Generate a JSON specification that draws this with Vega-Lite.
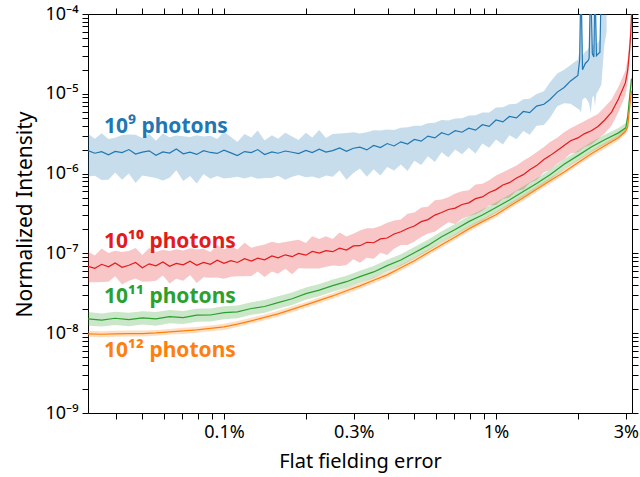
{
  "$schema": "https://vega.github.io/schema/vega-lite/v6.json",
  "width": 544,
  "height": 399,
  "autosize": "none",
  "padding": {"left": 88, "top": 14, "right": 8, "bottom": 64},
  "background": "white",
  "config": {"view": {"stroke": null}, "font": "Noto Sans"},
  "data": {"values": [
    {"s":"9","x":0.0316,"y":1.95e-6,"lo":0.92e-6,"hi":3.16e-6},
    {"s":"9","x":0.0335,"y":1.80e-6,"lo":0.94e-6,"hi":2.74e-6},
    {"s":"9","x":0.0355,"y":1.88e-6,"lo":0.83e-6,"hi":3.20e-6},
    {"s":"9","x":0.0376,"y":1.72e-6,"lo":0.84e-6,"hi":2.72e-6},
    {"s":"9","x":0.0398,"y":1.90e-6,"lo":1.03e-6,"hi":2.81e-6},
    {"s":"9","x":0.0422,"y":1.83e-6,"lo":0.84e-6,"hi":3.04e-6},
    {"s":"9","x":0.0447,"y":2.00e-6,"lo":1.00e-6,"hi":3.10e-6},
    {"s":"9","x":0.0473,"y":1.76e-6,"lo":0.76e-6,"hi":3.06e-6},
    {"s":"9","x":0.0501,"y":1.86e-6,"lo":0.95e-6,"hi":2.79e-6},
    {"s":"9","x":0.0531,"y":1.93e-6,"lo":0.91e-6,"hi":3.13e-6},
    {"s":"9","x":0.0562,"y":1.70e-6,"lo":0.88e-6,"hi":2.58e-6},
    {"s":"9","x":0.0596,"y":1.87e-6,"lo":0.82e-6,"hi":3.18e-6},
    {"s":"9","x":0.0631,"y":1.81e-6,"lo":0.89e-6,"hi":2.86e-6},
    {"s":"9","x":0.0668,"y":2.03e-6,"lo":1.10e-6,"hi":3.00e-6},
    {"s":"9","x":0.0708,"y":1.77e-6,"lo":0.81e-6,"hi":2.94e-6},
    {"s":"9","x":0.075,"y":1.86e-6,"lo":0.93e-6,"hi":2.88e-6},
    {"s":"9","x":0.0794,"y":1.74e-6,"lo":0.75e-6,"hi":3.03e-6},
    {"s":"9","x":0.0841,"y":1.94e-6,"lo":0.99e-6,"hi":2.91e-6},
    {"s":"9","x":0.0891,"y":1.84e-6,"lo":0.86e-6,"hi":2.98e-6},
    {"s":"9","x":0.0944,"y":1.79e-6,"lo":0.93e-6,"hi":2.72e-6},
    {"s":"9","x":0.1,"y":1.97e-6,"lo":0.87e-6,"hi":3.35e-6},
    {"s":"9","x":0.106,"y":1.82e-6,"lo":0.89e-6,"hi":2.88e-6},
    {"s":"9","x":0.112,"y":1.68e-6,"lo":0.91e-6,"hi":2.49e-6},
    {"s":"9","x":0.119,"y":1.89e-6,"lo":0.87e-6,"hi":3.14e-6},
    {"s":"9","x":0.126,"y":1.83e-6,"lo":0.92e-6,"hi":2.84e-6},
    {"s":"9","x":0.133,"y":2.00e-6,"lo":0.86e-6,"hi":3.48e-6},
    {"s":"9","x":0.141,"y":1.73e-6,"lo":0.88e-6,"hi":2.60e-6},
    {"s":"9","x":0.15,"y":1.87e-6,"lo":0.88e-6,"hi":3.03e-6},
    {"s":"9","x":0.158,"y":1.80e-6,"lo":0.94e-6,"hi":2.74e-6},
    {"s":"9","x":0.168,"y":1.92e-6,"lo":0.84e-6,"hi":3.26e-6},
    {"s":"9","x":0.178,"y":1.85e-6,"lo":0.91e-6,"hi":2.92e-6},
    {"s":"9","x":0.188,"y":1.78e-6,"lo":0.96e-6,"hi":2.63e-6},
    {"s":"9","x":0.2,"y":1.95e-6,"lo":0.90e-6,"hi":3.24e-6},
    {"s":"9","x":0.211,"y":1.83e-6,"lo":0.92e-6,"hi":2.84e-6},
    {"s":"9","x":0.224,"y":2.02e-6,"lo":0.87e-6,"hi":3.51e-6},
    {"s":"9","x":0.237,"y":1.86e-6,"lo":0.95e-6,"hi":2.79e-6},
    {"s":"9","x":0.251,"y":1.94e-6,"lo":0.91e-6,"hi":3.14e-6},
    {"s":"9","x":0.266,"y":2.10e-6,"lo":1.09e-6,"hi":3.19e-6},
    {"s":"9","x":0.282,"y":1.90e-6,"lo":0.84e-6,"hi":3.23e-6},
    {"s":"9","x":0.299,"y":2.08e-6,"lo":1.02e-6,"hi":3.29e-6},
    {"s":"9","x":0.316,"y":2.15e-6,"lo":1.16e-6,"hi":3.18e-6},
    {"s":"9","x":0.335,"y":1.98e-6,"lo":0.91e-6,"hi":3.29e-6},
    {"s":"9","x":0.355,"y":2.25e-6,"lo":1.13e-6,"hi":3.49e-6},
    {"s":"9","x":0.376,"y":2.12e-6,"lo":0.95e-6,"hi":3.48e-6},
    {"s":"9","x":0.398,"y":2.38e-6,"lo":1.21e-6,"hi":3.57e-6},
    {"s":"9","x":0.422,"y":2.22e-6,"lo":1.09e-6,"hi":3.51e-6},
    {"s":"9","x":0.447,"y":2.50e-6,"lo":1.30e-6,"hi":3.75e-6},
    {"s":"9","x":0.473,"y":2.35e-6,"lo":1.08e-6,"hi":3.81e-6},
    {"s":"9","x":0.501,"y":2.68e-6,"lo":1.45e-6,"hi":3.97e-6},
    {"s":"9","x":0.531,"y":2.55e-6,"lo":1.28e-6,"hi":3.98e-6},
    {"s":"9","x":0.562,"y":2.95e-6,"lo":1.65e-6,"hi":4.28e-6},
    {"s":"9","x":0.596,"y":2.80e-6,"lo":1.40e-6,"hi":4.34e-6},
    {"s":"9","x":0.631,"y":3.25e-6,"lo":1.85e-6,"hi":4.68e-6},
    {"s":"9","x":0.668,"y":3.05e-6,"lo":1.59e-6,"hi":4.64e-6},
    {"s":"9","x":0.708,"y":3.45e-6,"lo":2.00e-6,"hi":4.90e-6},
    {"s":"9","x":0.75,"y":3.30e-6,"lo":1.75e-6,"hi":4.95e-6},
    {"s":"9","x":0.794,"y":3.70e-6,"lo":2.11e-6,"hi":5.33e-6},
    {"s":"9","x":0.841,"y":3.50e-6,"lo":1.79e-6,"hi":5.39e-6},
    {"s":"9","x":0.891,"y":4.10e-6,"lo":2.38e-6,"hi":5.82e-6},
    {"s":"9","x":0.944,"y":3.90e-6,"lo":2.11e-6,"hi":5.85e-6},
    {"s":"9","x":1.0,"y":4.70e-6,"lo":2.68e-6,"hi":6.72e-6},
    {"s":"9","x":1.06,"y":4.45e-6,"lo":2.31e-6,"hi":6.76e-6},
    {"s":"9","x":1.12,"y":5.20e-6,"lo":3.02e-6,"hi":7.38e-6},
    {"s":"9","x":1.19,"y":5.00e-6,"lo":2.70e-6,"hi":7.50e-6},
    {"s":"9","x":1.26,"y":6.00e-6,"lo":3.42e-6,"hi":8.52e-6},
    {"s":"9","x":1.33,"y":5.80e-6,"lo":3.07e-6,"hi":8.70e-6},
    {"s":"9","x":1.41,"y":7.00e-6,"lo":3.99e-6,"hi":9.94e-6},
    {"s":"9","x":1.5,"y":7.40e-6,"lo":4.07e-6,"hi":10.8e-6},
    {"s":"9","x":1.58,"y":8.50e-6,"lo":5.0e-6,"hi":14.0e-6},
    {"s":"9","x":1.68,"y":10.5e-6,"lo":7.0e-6,"hi":18.0e-6},
    {"s":"9","x":1.78,"y":12.0e-6,"lo":7.6e-6,"hi":20.0e-6},
    {"s":"9","x":1.88,"y":14.5e-6,"lo":7.5e-6,"hi":23.0e-6},
    {"s":"9","x":2.0,"y":17.0e-6,"lo":6.5e-6,"hi":27.0e-6},
    {"s":"9","x":2.03,"y":2.65e-5,"lo":0.63e-5,"hi":3.6e-5},
    {"s":"9","x":2.053,"y":30e-5,"lo":0.58e-5,"hi":40e-5},
    {"s":"9","x":2.08,"y":2.0e-5,"lo":0.85e-5,"hi":3.0e-5},
    {"s":"9","x":2.13,"y":2.4e-5,"lo":0.9e-5,"hi":3.4e-5},
    {"s":"9","x":2.18,"y":2.6e-5,"lo":0.8e-5,"hi":3.6e-5},
    {"s":"9","x":2.2,"y":2.8e-5,"lo":0.75e-5,"hi":3.9e-5},
    {"s":"9","x":2.23,"y":30e-5,"lo":0.57e-5,"hi":40e-5},
    {"s":"9","x":2.26,"y":3.2e-5,"lo":0.9e-5,"hi":4.2e-5},
    {"s":"9","x":2.29,"y":2.9e-5,"lo":0.95e-5,"hi":4.0e-5},
    {"s":"9","x":2.31,"y":30e-5,"lo":0.7e-5,"hi":40e-5},
    {"s":"9","x":2.34,"y":3.0e-5,"lo":1.0e-5,"hi":4.2e-5},
    {"s":"9","x":2.38,"y":3.2e-5,"lo":1.1e-5,"hi":4.5e-5},
    {"s":"9","x":2.41,"y":3.3e-5,"lo":1.2e-5,"hi":4.8e-5},
    {"s":"9","x":2.44,"y":30e-5,"lo":1.3e-5,"hi":40e-5},
    {"s":"9","x":2.5,"y":30e-5,"lo":4.0e-5,"hi":40e-5},
    {"s":"9","x":2.55,"y":30e-5,"lo":6.0e-5,"hi":40e-5},

    {"s":"10","x":0.0316,"y":6.9e-8,"lo":4.35e-8,"hi":10.5e-8},
    {"s":"10","x":0.0335,"y":6.5e-8,"lo":4.36e-8,"hi":9.43e-8},
    {"s":"10","x":0.0355,"y":7.3e-8,"lo":4.38e-8,"hi":11.5e-8},
    {"s":"10","x":0.0376,"y":6.8e-8,"lo":4.42e-8,"hi":10.1e-8},
    {"s":"10","x":0.0398,"y":7.6e-8,"lo":5.17e-8,"hi":10.8e-8},
    {"s":"10","x":0.0422,"y":6.7e-8,"lo":4.09e-8,"hi":10.4e-8},
    {"s":"10","x":0.0447,"y":7.1e-8,"lo":4.54e-8,"hi":10.7e-8},
    {"s":"10","x":0.0473,"y":7.7e-8,"lo":4.85e-8,"hi":11.7e-8},
    {"s":"10","x":0.0501,"y":6.6e-8,"lo":4.42e-8,"hi":9.57e-8},
    {"s":"10","x":0.0531,"y":7.4e-8,"lo":4.44e-8,"hi":11.7e-8},
    {"s":"10","x":0.0562,"y":7.0e-8,"lo":4.55e-8,"hi":10.4e-8},
    {"s":"10","x":0.0596,"y":7.8e-8,"lo":5.30e-8,"hi":11.1e-8},
    {"s":"10","x":0.0631,"y":6.9e-8,"lo":4.21e-8,"hi":10.7e-8},
    {"s":"10","x":0.0668,"y":7.5e-8,"lo":4.80e-8,"hi":11.3e-8},
    {"s":"10","x":0.0708,"y":7.2e-8,"lo":4.54e-8,"hi":10.9e-8},
    {"s":"10","x":0.075,"y":8.0e-8,"lo":5.36e-8,"hi":11.6e-8},
    {"s":"10","x":0.0794,"y":7.1e-8,"lo":4.26e-8,"hi":11.2e-8},
    {"s":"10","x":0.0841,"y":7.7e-8,"lo":5.01e-8,"hi":11.4e-8},
    {"s":"10","x":0.0891,"y":7.3e-8,"lo":4.96e-8,"hi":10.4e-8},
    {"s":"10","x":0.0944,"y":8.2e-8,"lo":5.00e-8,"hi":12.7e-8},
    {"s":"10","x":0.1,"y":7.5e-8,"lo":4.80e-8,"hi":11.3e-8},
    {"s":"10","x":0.106,"y":8.1e-8,"lo":5.10e-8,"hi":12.3e-8},
    {"s":"10","x":0.112,"y":7.7e-8,"lo":5.16e-8,"hi":11.2e-8},
    {"s":"10","x":0.119,"y":8.6e-8,"lo":5.16e-8,"hi":13.6e-8},
    {"s":"10","x":0.126,"y":8.0e-8,"lo":5.20e-8,"hi":11.8e-8},
    {"s":"10","x":0.133,"y":8.7e-8,"lo":5.92e-8,"hi":12.4e-8},
    {"s":"10","x":0.141,"y":8.3e-8,"lo":5.06e-8,"hi":12.9e-8},
    {"s":"10","x":0.15,"y":9.3e-8,"lo":5.95e-8,"hi":14.0e-8},
    {"s":"10","x":0.158,"y":8.8e-8,"lo":5.54e-8,"hi":13.4e-8},
    {"s":"10","x":0.168,"y":9.6e-8,"lo":6.43e-8,"hi":13.9e-8},
    {"s":"10","x":0.178,"y":9.1e-8,"lo":5.46e-8,"hi":14.4e-8},
    {"s":"10","x":0.188,"y":10.0e-8,"lo":6.50e-8,"hi":14.8e-8},
    {"s":"10","x":0.2,"y":9.5e-8,"lo":6.46e-8,"hi":13.5e-8},
    {"s":"10","x":0.211,"y":10.6e-8,"lo":6.47e-8,"hi":16.4e-8},
    {"s":"10","x":0.224,"y":10.1e-8,"lo":6.46e-8,"hi":15.2e-8},
    {"s":"10","x":0.237,"y":10.8e-8,"lo":6.80e-8,"hi":16.4e-8},
    {"s":"10","x":0.251,"y":10.5e-8,"lo":7.04e-8,"hi":15.2e-8},
    {"s":"10","x":0.266,"y":11.6e-8,"lo":6.96e-8,"hi":18.3e-8},
    {"s":"10","x":0.282,"y":11.0e-8,"lo":7.15e-8,"hi":16.3e-8},
    {"s":"10","x":0.299,"y":12.4e-8,"lo":8.43e-8,"hi":17.6e-8},
    {"s":"10","x":0.316,"y":12.5e-8,"lo":7.63e-8,"hi":19.4e-8},
    {"s":"10","x":0.335,"y":13.8e-8,"lo":8.83e-8,"hi":20.7e-8},
    {"s":"10","x":0.355,"y":13.6e-8,"lo":8.57e-8,"hi":20.7e-8},
    {"s":"10","x":0.376,"y":15.2e-8,"lo":10.2e-8,"hi":22.0e-8},
    {"s":"10","x":0.398,"y":15.6e-8,"lo":9.52e-8,"hi":24.3e-8},
    {"s":"10","x":0.422,"y":17.5e-8,"lo":11.4e-8,"hi":25.9e-8},
    {"s":"10","x":0.447,"y":18.7e-8,"lo":12.7e-8,"hi":26.6e-8},
    {"s":"10","x":0.473,"y":20.5e-8,"lo":12.7e-8,"hi":31.4e-8},
    {"s":"10","x":0.501,"y":22.0e-8,"lo":14.1e-8,"hi":32.6e-8},
    {"s":"10","x":0.531,"y":25.0e-8,"lo":16.0e-8,"hi":37.5e-8},
    {"s":"10","x":0.562,"y":26.5e-8,"lo":17.8e-8,"hi":38.4e-8},
    {"s":"10","x":0.596,"y":30.2e-8,"lo":18.7e-8,"hi":46.2e-8},
    {"s":"10","x":0.631,"y":32.5e-8,"lo":21.5e-8,"hi":47.5e-8},
    {"s":"10","x":0.668,"y":35.5e-8,"lo":24.5e-8,"hi":50.4e-8},
    {"s":"10","x":0.708,"y":37.0e-8,"lo":23.3e-8,"hi":56.2e-8},
    {"s":"10","x":0.75,"y":41.0e-8,"lo":27.1e-8,"hi":60.3e-8},
    {"s":"10","x":0.794,"y":43.0e-8,"lo":29.2e-8,"hi":61.9e-8},
    {"s":"10","x":0.841,"y":48.5e-8,"lo":31.0e-8,"hi":72.8e-8},
    {"s":"10","x":0.891,"y":51.0e-8,"lo":34.2e-8,"hi":74.5e-8},
    {"s":"10","x":0.944,"y":58.0e-8,"lo":40.0e-8,"hi":82.4e-8},
    {"s":"10","x":1.0,"y":63.0e-8,"lo":40.3e-8,"hi":94.5e-8},
    {"s":"10","x":1.06,"y":72.0e-8,"lo":48.2e-8,"hi":104e-8},
    {"s":"10","x":1.12,"y":77.0e-8,"lo":50.1e-8,"hi":114e-8},
    {"s":"10","x":1.19,"y":88.0e-8,"lo":60.7e-8,"hi":126e-8},
    {"s":"10","x":1.26,"y":97.0e-8,"lo":63.1e-8,"hi":145e-8},
    {"s":"10","x":1.33,"y":112e-8,"lo":76.2e-8,"hi":161e-8},
    {"s":"10","x":1.41,"y":126e-8,"lo":83.2e-8,"hi":185e-8},
    {"s":"10","x":1.5,"y":150e-8,"lo":104e-8,"hi":215e-8},
    {"s":"10","x":1.58,"y":168e-8,"lo":111e-8,"hi":249e-8},
    {"s":"10","x":1.68,"y":195e-8,"lo":133e-8,"hi":281e-8},
    {"s":"10","x":1.78,"y":225e-8,"lo":151e-8,"hi":329e-8},
    {"s":"10","x":1.88,"y":258e-8,"lo":178e-8,"hi":369e-8},
    {"s":"10","x":2.0,"y":280e-8,"lo":185e-8,"hi":412e-8},
    {"s":"10","x":2.11,"y":315e-8,"lo":214e-8,"hi":454e-8},
    {"s":"10","x":2.24,"y":345e-8,"lo":231e-8,"hi":504e-8},
    {"s":"10","x":2.37,"y":390e-8,"lo":269e-8,"hi":558e-8},
    {"s":"10","x":2.51,"y":470e-8,"lo":320e-8,"hi":682e-8},
    {"s":"10","x":2.66,"y":590e-8,"lo":401e-8,"hi":850e-8},
    {"s":"10","x":2.82,"y":860e-8,"lo":593e-8,"hi":1230e-8},
    {"s":"10","x":2.99,"y":1370e-8,"lo":959e-8,"hi":1945e-8},
    {"s":"10","x":3.05,"y":1990e-8,"lo":1390e-8,"hi":2790e-8},
    {"s":"10","x":3.1,"y":3650e-8,"lo":2560e-8,"hi":5110e-8},
    {"s":"10","x":3.13,"y":5800e-8,"lo":4060e-8,"hi":8120e-8},
    {"s":"10","x":3.16,"y":13000e-8,"lo":9100e-8,"hi":18200e-8},

    {"s":"11","x":0.0316,"y":1.51e-8,"lo":1.24e-8,"hi":1.84e-8},
    {"s":"11","x":0.0355,"y":1.46e-8,"lo":1.21e-8,"hi":1.77e-8},
    {"s":"11","x":0.0398,"y":1.54e-8,"lo":1.27e-8,"hi":1.86e-8},
    {"s":"11","x":0.0447,"y":1.48e-8,"lo":1.22e-8,"hi":1.80e-8},
    {"s":"11","x":0.0501,"y":1.56e-8,"lo":1.29e-8,"hi":1.89e-8},
    {"s":"11","x":0.0562,"y":1.51e-8,"lo":1.24e-8,"hi":1.84e-8},
    {"s":"11","x":0.0631,"y":1.61e-8,"lo":1.33e-8,"hi":1.95e-8},
    {"s":"11","x":0.0708,"y":1.57e-8,"lo":1.30e-8,"hi":1.90e-8},
    {"s":"11","x":0.0794,"y":1.68e-8,"lo":1.39e-8,"hi":2.03e-8},
    {"s":"11","x":0.0891,"y":1.69e-8,"lo":1.40e-8,"hi":2.04e-8},
    {"s":"11","x":0.1,"y":1.81e-8,"lo":1.50e-8,"hi":2.18e-8},
    {"s":"11","x":0.112,"y":1.85e-8,"lo":1.54e-8,"hi":2.23e-8},
    {"s":"11","x":0.126,"y":2.04e-8,"lo":1.70e-8,"hi":2.45e-8},
    {"s":"11","x":0.141,"y":2.16e-8,"lo":1.80e-8,"hi":2.60e-8},
    {"s":"11","x":0.158,"y":2.42e-8,"lo":2.02e-8,"hi":2.90e-8},
    {"s":"11","x":0.178,"y":2.70e-8,"lo":2.26e-8,"hi":3.23e-8},
    {"s":"11","x":0.2,"y":3.13e-8,"lo":2.62e-8,"hi":3.74e-8},
    {"s":"11","x":0.224,"y":3.46e-8,"lo":2.90e-8,"hi":4.13e-8},
    {"s":"11","x":0.251,"y":3.95e-8,"lo":3.31e-8,"hi":4.70e-8},
    {"s":"11","x":0.282,"y":4.42e-8,"lo":3.71e-8,"hi":5.26e-8},
    {"s":"11","x":0.316,"y":5.12e-8,"lo":4.30e-8,"hi":6.08e-8},
    {"s":"11","x":0.355,"y":5.86e-8,"lo":4.93e-8,"hi":6.95e-8},
    {"s":"11","x":0.398,"y":7.02e-8,"lo":5.92e-8,"hi":8.30e-8},
    {"s":"11","x":0.447,"y":8.25e-8,"lo":6.97e-8,"hi":9.74e-8},
    {"s":"11","x":0.501,"y":10.2e-8,"lo":8.64e-8,"hi":12.0e-8},
    {"s":"11","x":0.562,"y":12.6e-8,"lo":10.7e-8,"hi":14.8e-8},
    {"s":"11","x":0.631,"y":16.2e-8,"lo":13.8e-8,"hi":19.0e-8},
    {"s":"11","x":0.708,"y":19.9e-8,"lo":16.9e-8,"hi":23.3e-8},
    {"s":"11","x":0.794,"y":25.0e-8,"lo":21.3e-8,"hi":29.2e-8},
    {"s":"11","x":0.891,"y":30.3e-8,"lo":25.9e-8,"hi":35.4e-8},
    {"s":"11","x":1.0,"y":37.5e-8,"lo":32.1e-8,"hi":43.7e-8},
    {"s":"11","x":1.12,"y":46.7e-8,"lo":40.0e-8,"hi":54.4e-8},
    {"s":"11","x":1.26,"y":59.5e-8,"lo":51.0e-8,"hi":69.2e-8},
    {"s":"11","x":1.41,"y":75.0e-8,"lo":64.4e-8,"hi":87.0e-8},
    {"s":"11","x":1.58,"y":97.0e-8,"lo":83.4e-8,"hi":112e-8},
    {"s":"11","x":1.78,"y":131e-8,"lo":113e-8,"hi":151e-8},
    {"s":"11","x":2.0,"y":168e-8,"lo":145e-8,"hi":194e-8},
    {"s":"11","x":2.24,"y":216e-8,"lo":187e-8,"hi":249e-8},
    {"s":"11","x":2.51,"y":266e-8,"lo":230e-8,"hi":306e-8},
    {"s":"11","x":2.82,"y":324e-8,"lo":281e-8,"hi":373e-8},
    {"s":"11","x":3.0,"y":375e-8,"lo":326e-8,"hi":432e-8},
    {"s":"11","x":3.05,"y":518e-8,"lo":445e-8,"hi":600e-8},
    {"s":"11","x":3.1,"y":920e-8,"lo":780e-8,"hi":1080e-8},
    {"s":"11","x":3.15,"y":1550e-8,"lo":1300e-8,"hi":1850e-8},

    {"s":"12","x":0.0316,"y":0.98e-8,"lo":0.90e-8,"hi":1.07e-8},
    {"s":"12","x":0.0355,"y":0.97e-8,"lo":0.89e-8,"hi":1.06e-8},
    {"s":"12","x":0.0398,"y":0.98e-8,"lo":0.90e-8,"hi":1.07e-8},
    {"s":"12","x":0.0447,"y":0.99e-8,"lo":0.91e-8,"hi":1.08e-8},
    {"s":"12","x":0.0501,"y":0.99e-8,"lo":0.91e-8,"hi":1.08e-8},
    {"s":"12","x":0.0562,"y":1.01e-8,"lo":0.93e-8,"hi":1.10e-8},
    {"s":"12","x":0.0631,"y":1.04e-8,"lo":0.96e-8,"hi":1.13e-8},
    {"s":"12","x":0.0708,"y":1.07e-8,"lo":0.98e-8,"hi":1.17e-8},
    {"s":"12","x":0.0794,"y":1.10e-8,"lo":1.01e-8,"hi":1.20e-8},
    {"s":"12","x":0.0891,"y":1.15e-8,"lo":1.06e-8,"hi":1.25e-8},
    {"s":"12","x":0.1,"y":1.20e-8,"lo":1.10e-8,"hi":1.31e-8},
    {"s":"12","x":0.112,"y":1.30e-8,"lo":1.20e-8,"hi":1.42e-8},
    {"s":"12","x":0.126,"y":1.43e-8,"lo":1.32e-8,"hi":1.56e-8},
    {"s":"12","x":0.141,"y":1.58e-8,"lo":1.45e-8,"hi":1.72e-8},
    {"s":"12","x":0.158,"y":1.75e-8,"lo":1.61e-8,"hi":1.91e-8},
    {"s":"12","x":0.178,"y":1.99e-8,"lo":1.83e-8,"hi":2.17e-8},
    {"s":"12","x":0.2,"y":2.26e-8,"lo":2.08e-8,"hi":2.46e-8},
    {"s":"12","x":0.224,"y":2.58e-8,"lo":2.37e-8,"hi":2.81e-8},
    {"s":"12","x":0.251,"y":2.93e-8,"lo":2.70e-8,"hi":3.19e-8},
    {"s":"12","x":0.282,"y":3.40e-8,"lo":3.13e-8,"hi":3.71e-8},
    {"s":"12","x":0.316,"y":3.92e-8,"lo":3.61e-8,"hi":4.27e-8},
    {"s":"12","x":0.355,"y":4.60e-8,"lo":4.23e-8,"hi":5.01e-8},
    {"s":"12","x":0.398,"y":5.38e-8,"lo":4.95e-8,"hi":5.86e-8},
    {"s":"12","x":0.447,"y":6.60e-8,"lo":6.07e-8,"hi":7.19e-8},
    {"s":"12","x":0.501,"y":8.09e-8,"lo":7.44e-8,"hi":8.82e-8},
    {"s":"12","x":0.562,"y":10.2e-8,"lo":9.38e-8,"hi":11.1e-8},
    {"s":"12","x":0.631,"y":12.8e-8,"lo":11.8e-8,"hi":13.9e-8},
    {"s":"12","x":0.708,"y":16.1e-8,"lo":14.8e-8,"hi":17.5e-8},
    {"s":"12","x":0.794,"y":20.3e-8,"lo":18.7e-8,"hi":22.1e-8},
    {"s":"12","x":0.891,"y":25.0e-8,"lo":23.0e-8,"hi":27.2e-8},
    {"s":"12","x":1.0,"y":30.5e-8,"lo":28.1e-8,"hi":33.2e-8},
    {"s":"12","x":1.12,"y":39.0e-8,"lo":35.9e-8,"hi":42.5e-8},
    {"s":"12","x":1.26,"y":49.8e-8,"lo":45.8e-8,"hi":54.3e-8},
    {"s":"12","x":1.41,"y":63.5e-8,"lo":58.4e-8,"hi":69.2e-8},
    {"s":"12","x":1.58,"y":81.2e-8,"lo":74.7e-8,"hi":88.5e-8},
    {"s":"12","x":1.78,"y":105e-8,"lo":96.6e-8,"hi":114e-8},
    {"s":"12","x":2.0,"y":137e-8,"lo":126e-8,"hi":149e-8},
    {"s":"12","x":2.24,"y":177e-8,"lo":163e-8,"hi":193e-8},
    {"s":"12","x":2.51,"y":223e-8,"lo":205e-8,"hi":243e-8},
    {"s":"12","x":2.82,"y":281e-8,"lo":259e-8,"hi":306e-8},
    {"s":"12","x":3.0,"y":344e-8,"lo":316e-8,"hi":375e-8},
    {"s":"12","x":3.05,"y":386e-8,"lo":340e-8,"hi":440e-8},
    {"s":"12","x":3.1,"y":687e-8,"lo":560e-8,"hi":850e-8},
    {"s":"12","x":3.15,"y":1090e-8,"lo":800e-8,"hi":1500e-8}
  ]},
  "layer": [
    {
      "mark": {"type": "area", "opacity": 0.25, "clip": true},
      "encoding": {
        "x": {"field": "x", "type": "quantitative",
          "scale": {"type": "log", "domain": [0.0316228, 3.16228], "nice": false},
          "axis": {
            "orient": "bottom",
            "values": [0.04,0.05,0.06,0.07,0.08,0.09,0.1,0.2,0.3,0.4,0.5,0.6,0.7,0.8,0.9,1,2,3],
            "labelExpr": "indexof([0.1,0.3,1,3], datum.value) >= 0 ? datum.value + '%' : ''",
            "grid": false, "tickSize": 6, "labelPadding": 4,
            "encode": {"ticks": {"update": {"y2": {"signal": "indexof([0.1,0.3,1,3], datum.value) >= 0 ? -6 : -3"}}}},
            "tickColor": "#000", "domainColor": "#000",
            "labelFont": "Noto Sans", "labelFontSize": 18, "labelColor": "#000",
            "labelOverlap": false, "labelFlush": false,
            "title": "Flat fielding error", "titleFont": "Noto Sans", "titleFontSize": 20,
            "titleFontWeight": "normal", "titleColor": "#000",
            "titleX": 272, "titleY": 48, "titleAlign": "center", "titleBaseline": "middle"
          }
        },
        "y": {"field": "lo", "type": "quantitative",
          "scale": {"type": "log", "domain": [1e-9, 1e-4], "nice": false},
          "axis": {
            "orient": "left",
            "values": [1e-9,2e-9,3e-9,4e-9,5e-9,6e-9,7e-9,8e-9,9e-9,1e-8,2e-8,3e-8,4e-8,5e-8,6e-8,7e-8,8e-8,9e-8,1e-7,2e-7,3e-7,4e-7,5e-7,6e-7,7e-7,8e-7,9e-7,1e-6,2e-6,3e-6,4e-6,5e-6,6e-6,7e-6,8e-6,9e-6,1e-5,2e-5,3e-5,4e-5,5e-5,6e-5,7e-5,8e-5,9e-5,1e-4],
            "labelExpr": "datum.value == 1e-4 ? '10⁻⁴' : datum.value == 1e-5 ? '10⁻⁵' : datum.value == 1e-6 ? '10⁻⁶' : datum.value == 1e-7 ? '10⁻⁷' : datum.value == 1e-8 ? '10⁻⁸' : datum.value == 1e-9 ? '10⁻⁹' : ''",
            "grid": false, "tickSize": 6, "labelPadding": 4,
            "encode": {"ticks": {"update": {"x2": {"signal": "indexof([1e-9,1e-8,1e-7,1e-6,1e-5,1e-4], datum.value) >= 0 ? 6 : 3"}}}},
            "tickColor": "#000", "domainColor": "#000",
            "labelFont": "Noto Sans", "labelFontSize": 18, "labelColor": "#000",
            "labelOverlap": false, "labelFlush": false,
            "title": "Normalized Intensity", "titleFont": "Noto Sans", "titleFontSize": 21,
            "titleFontWeight": "normal", "titleColor": "#000",
            "titleX": -63, "titleY": 200, "titleAngle": -90, "titleAlign": "center", "titleBaseline": "middle"
          }
        },
        "y2": {"field": "hi"},
        "color": {"field": "s", "type": "nominal",
          "scale": {"domain": ["9","10","11","12"], "range": ["#1f77b4","#e41a1c","#2ca02c","#ff7f0e"]},
          "legend": null}
      }
    },
    {
      "mark": {"type": "line", "strokeWidth": 1.2, "clip": true},
      "encoding": {
        "x": {"field": "x", "type": "quantitative",
          "axis": {
            "orient": "top", "labels": false, "title": null, "grid": false,
            "values": [0.04,0.05,0.06,0.07,0.08,0.09,0.1,0.2,0.3,0.4,0.5,0.6,0.7,0.8,0.9,1,2,3],
            "tickSize": 6, "tickColor": "#000", "domainColor": "#000",
            "encode": {"ticks": {"update": {"y2": {"signal": "indexof([0.1,0.3,1,3], datum.value) >= 0 ? 6 : 3"}}}}
          }
        },
        "y": {"field": "y", "type": "quantitative",
          "axis": {
            "orient": "right", "labels": false, "title": null, "grid": false,
            "values": [1e-9,2e-9,3e-9,4e-9,5e-9,6e-9,7e-9,8e-9,9e-9,1e-8,2e-8,3e-8,4e-8,5e-8,6e-8,7e-8,8e-8,9e-8,1e-7,2e-7,3e-7,4e-7,5e-7,6e-7,7e-7,8e-7,9e-7,1e-6,2e-6,3e-6,4e-6,5e-6,6e-6,7e-6,8e-6,9e-6,1e-5,2e-5,3e-5,4e-5,5e-5,6e-5,7e-5,8e-5,9e-5,1e-4],
            "tickSize": 6, "tickColor": "#000", "domainColor": "#000",
            "encode": {"ticks": {"update": {"x2": {"signal": "indexof([1e-9,1e-8,1e-7,1e-6,1e-5,1e-4], datum.value) >= 0 ? -6 : -3"}}}}
          }
        },
        "color": {"field": "s", "type": "nominal", "legend": null}
      }
    },
    {
      "data": {"values": [
        {"s":"9","x":0.0362,"y":3.2e-6,"t":"10⁹ photons"},
        {"s":"10","x":0.0362,"y":1.165e-7,"t":"10¹⁰ photons"},
        {"s":"11","x":0.0362,"y":2.4e-8,"t":"10¹¹ photons"},
        {"s":"12","x":0.0362,"y":5.04e-9,"t":"10¹² photons"}
      ]},
      "mark": {"type": "text", "align": "left", "baseline": "alphabetic", "font": "Noto Sans", "fontSize": 21, "fontWeight": "bold"},
      "encoding": {
        "x": {"field": "x", "type": "quantitative", "axis": null},
        "y": {"field": "y", "type": "quantitative", "axis": null},
        "text": {"field": "t"},
        "color": {"field": "s", "type": "nominal", "legend": null}
      }
    }
  ],
  "resolve": {"axis": {"x": "independent", "y": "independent"}}
}
